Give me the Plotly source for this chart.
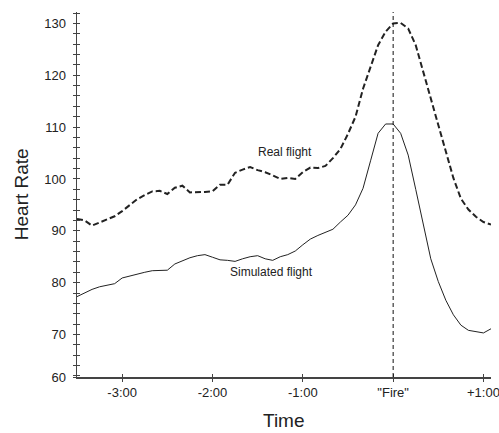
import plotly.graph_objects as go

# Time in seconds relative to "Fire"
time_s = list(range(-210, 70, 5))

real_flight = [
    92.3, 92.0, 91.0, 91.6, 92.2, 92.8, 93.8, 95.0, 96.1, 96.9,
    97.6, 97.7, 97.1, 98.3, 98.7, 97.4, 97.4, 97.5, 97.6, 98.9,
    98.9, 101.2, 101.8, 102.3, 101.7, 101.3, 100.7, 100.0, 100.2, 100.0,
    101.3, 102.2, 102.1, 102.5, 104.0, 105.8, 108.7, 112.0, 117.4, 121.7,
    125.8, 128.4, 130.0, 130.1, 129.0, 125.8, 120.5, 115.6, 110.4, 105.3,
    100.2, 96.2, 94.1, 92.7, 91.7, 91.2,
]

simulated_flight = [
    77.3, 78.0, 78.7, 79.2, 79.5, 79.8, 80.9, 81.3, 81.7, 82.0,
    82.3, 82.4, 82.4, 83.6, 84.2, 84.8, 85.2, 85.4, 84.9, 84.4,
    84.3, 84.1, 84.6, 85.0, 85.2, 84.6, 84.3, 85.0, 85.4, 86.1,
    87.3, 88.4, 89.1, 89.7, 90.3, 91.7, 93.0, 95.0, 98.2, 103.5,
    108.8, 110.6, 110.6, 108.8, 104.6, 98.0, 91.2, 84.6, 80.2, 76.6,
    73.8, 71.8, 70.8, 70.5, 70.3, 71.1,
]

x_tick_vals = [-180, -120, -60, 0, 60]
x_tick_text = ["-3:00", "-2:00", "-1:00", "\"Fire\"", "+1:00"]
y_tick_vals = [61.8, 70, 80, 90, 100, 110, 120, 130]
y_tick_text = ["60", "70", "80", "90", "100", "110", "120", "130"]

x_range = [-210, 65]
y_range = [61.8, 132.2]

FONT = "Liberation Sans, Arial, Helvetica, sans-serif"
INK = "#222222"
AXIS = "#444444"

fig = go.Figure()
fig.add_trace(go.Scatter(
    x=time_s, y=real_flight, mode="lines", name="Real flight",
    line=dict(color=INK, width=2, dash="6px,3px"),
))
fig.add_trace(go.Scatter(
    x=time_s, y=simulated_flight, mode="lines", name="Simulated flight",
    line=dict(color=INK, width=1),
))
# invisible trace on overlay axes so the inside ticks are drawn
fig.add_trace(go.Scatter(x=[x_range[0]], y=[y_range[0]], xaxis="x2", yaxis="y2",
                         mode="markers", marker=dict(opacity=0), hoverinfo="skip",
                         showlegend=False))

fig.add_shape(type="line", x0=0, x1=0, y0=0, y1=1, xref="x", yref="paper",
              line=dict(color="#111111", width=1, dash="4px,3px"))

fig.add_annotation(x=-71.6, y=105.2, text="Real flight", showarrow=False,
                   font=dict(family=FONT, size=12, color=INK))
fig.add_annotation(x=-80.7, y=82.0, text="Simulated flight", showarrow=False,
                   font=dict(family=FONT, size=12, color=INK))

# axis titles
fig.add_annotation(xref="paper", yref="paper", x=0.5, y=-0.1205, text="Time",
                   showarrow=False, xanchor="center", yanchor="middle",
                   font=dict(family=FONT, size=19, color=INK))
fig.add_annotation(xref="paper", yref="paper", x=-0.1336, y=0.5, text="Heart Rate",
                   showarrow=False, xanchor="center", yanchor="middle", textangle=-90,
                   font=dict(family=FONT, size=19, color=INK))

common_axis = dict(showgrid=False, zeroline=False, automargin=False)

fig.update_layout(
    width=499, height=433,
    margin=dict(l=77, r=8, t=12, b=56),
    paper_bgcolor="white", plot_bgcolor="white",
    showlegend=False,
    font=dict(family=FONT, size=13, color=INK),
    xaxis=dict(
        range=x_range, tickmode="array", tickvals=x_tick_vals, ticktext=x_tick_text,
        showline=True, linecolor=AXIS, linewidth=1.5,
        ticks="outside", ticklen=3, tickcolor=AXIS, tickwidth=1,
        tickfont=dict(size=13, color=INK), ticklabeloverflow="allow",
        **common_axis,
    ),
    yaxis=dict(
        range=y_range, tickmode="array", tickvals=y_tick_vals, ticktext=y_tick_text,
        showline=True, linecolor=AXIS, linewidth=1.5,
        ticks="outside", ticklen=3, tickcolor=AXIS, tickwidth=1,
        minor=dict(tickmode="linear", tick0=0, dtick=2, ticks="outside",
                   ticklen=3, tickcolor=AXIS, tickwidth=1),
        tickfont=dict(size=13, color=INK), ticklabeloverflow="allow",
        ticklabelstandoff=4,
        **common_axis,
    ),
    xaxis2=dict(
        overlaying="x", range=x_range, tickmode="array", tickvals=x_tick_vals,
        showticklabels=False, ticks="inside", ticklen=3, tickcolor=AXIS,
        showline=False, **common_axis,
    ),
    yaxis2=dict(
        overlaying="y", range=y_range, tickmode="array", tickvals=y_tick_vals,
        showticklabels=False, ticks="inside", ticklen=3, tickcolor=AXIS,
        minor=dict(tickmode="linear", tick0=0, dtick=2, ticks="inside",
                   ticklen=3, tickcolor=AXIS, tickwidth=1),
        showline=False, **common_axis,
    ),
)

fig.write_html(
    "out.html",
    config={"displayModeBar": False, "staticPlot": True},
    post_script="document.body.style.margin='0';document.body.style.overflow='hidden';",
)
